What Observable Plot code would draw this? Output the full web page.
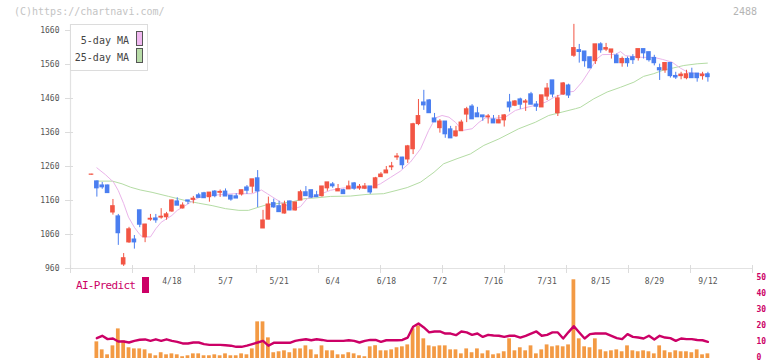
<!DOCTYPE html>
<html><head><meta charset="utf-8">
<script src="https://cdn.jsdelivr.net/npm/d3@7"></script>
<script src="https://cdn.jsdelivr.net/npm/@observablehq/plot@0.6"></script>
<style>
body{margin:0;background:#fff;}
#wrap{position:relative;width:772px;height:361px;overflow:hidden;font-family:"DejaVu Sans Mono",monospace;}
#wrap svg{position:absolute;left:0;top:0;}
.t{position:absolute;white-space:nowrap;}
</style></head><body><div id="wrap"></div>
<script>
// ---- data ----
const dateLabels = ["4/18","5/7","5/21","6/4","6/18","7/2","7/16","7/31","8/15","8/29","9/12"];
const labelIdx   = [15,25,35,45,55,65,75,85,95,105,115];
const priceTicks = [960,1060,1160,1260,1360,1460,1560,1660];
const volTicks   = [0,10,20,30,40,50];

const open  = [1236,1216,1204,1204,1125,1113,972,1037,1045,1131,1052,1104,1107,1110,1111,1128,1157,1137,1160,1162,1175,1181,1170,1186,1183,1186,1174,1172,1178,1198,1201,1225,1078,1104,1152,1143,1122,1157,1131,1160,1184,1190,1175,1173,1196,1207,1187,1190,1193,1210,1196,1195,1201,1196,1229,1240,1258,1287,1286,1281,1311,1385,1448,1454,1401,1373,1392,1369,1349,1364,1413,1436,1416,1410,1405,1398,1387,1396,1448,1439,1457,1448,1472,1442,1434,1466,1513,1417,1472,1498,1586,1602,1598,1581,1570,1619,1604,1595,1586,1564,1576,1581,1579,1605,1596,1579,1549,1543,1564,1526,1526,1520,1533,1533,1526,1531];
const high  = [1237,1217,1213,1205,1163,1119,1004,1081,1057,1131,1090,1119,1119,1136,1125,1161,1168,1153,1160,1172,1181,1184,1183,1189,1191,1194,1174,1180,1190,1204,1222,1248,1131,1170,1164,1158,1158,1158,1154,1190,1201,1190,1187,1201,1213,1213,1207,1193,1217,1213,1207,1210,1201,1228,1242,1260,1272,1298,1287,1322,1387,1457,1484,1457,1416,1398,1392,1378,1378,1396,1434,1442,1434,1410,1413,1410,1410,1413,1472,1454,1461,1457,1478,1451,1469,1504,1513,1469,1507,1502,1678,1619,1598,1581,1619,1624,1622,1604,1591,1582,1582,1589,1605,1605,1596,1587,1561,1564,1564,1537,1537,1543,1549,1533,1537,1537];
const low   = [1235,1170,1193,1181,1117,1028,966,1034,1017,1080,1036,1099,1093,1105,1102,1125,1145,1135,1148,1150,1168,1167,1155,1168,1169,1172,1158,1166,1173,1178,1181,1139,1078,1103,1137,1126,1120,1130,1129,1160,1173,1166,1170,1170,1187,1196,1187,1179,1193,1190,1190,1192,1178,1196,1229,1240,1248,1278,1252,1269,1295,1380,1425,1417,1390,1358,1343,1343,1346,1364,1389,1399,1405,1393,1385,1387,1386,1376,1420,1436,1428,1422,1442,1422,1434,1454,1462,1407,1469,1460,1581,1564,1552,1549,1560,1593,1598,1576,1564,1552,1552,1560,1570,1576,1567,1556,1513,1534,1520,1516,1515,1515,1520,1508,1514,1508];
const close = [1236,1196,1199,1182,1143,1064,990,1075,1037,1089,1089,1106,1102,1112,1119,1160,1145,1145,1157,1165,1168,1167,1183,1173,1185,1172,1163,1166,1190,1189,1222,1187,1101,1148,1140,1126,1148,1131,1154,1184,1173,1169,1170,1201,1213,1202,1193,1179,1201,1195,1200,1201,1184,1225,1236,1248,1260,1289,1264,1319,1384,1408,1440,1417,1390,1392,1355,1343,1363,1389,1428,1399,1405,1405,1407,1387,1396,1410,1434,1451,1442,1451,1442,1436,1469,1489,1472,1460,1504,1469,1608,1597,1570,1549,1619,1602,1608,1604,1564,1576,1564,1573,1605,1593,1573,1564,1543,1564,1526,1522,1530,1531,1520,1520,1530,1523];

const volume = [0,10.4,5.4,2.3,7.9,18.5,11,6.7,6,6,5.4,2.9,1.7,3.6,2.3,2.9,2.3,1.1,1.7,2.9,2.9,1.7,1.7,2.3,1.7,2.9,1.7,1.7,2.9,2.3,6,22.9,22.9,12.9,3.6,4.2,4.8,3.6,6,6,7.9,5.4,2.3,7.9,4.8,4.8,2.3,2.3,3.6,2.9,1.7,1.1,7.3,8,4.8,4.8,5.4,6.7,7.3,8.5,18.5,20.4,12.3,7.9,7.3,7.9,7.9,5.4,5.4,2.9,6,3.6,6,2.9,4.8,2.3,2.9,4.2,12.3,4.8,6.7,4.8,7.9,2.9,5.4,8.5,7.3,7.9,7.3,8.5,49.2,12.3,7.3,6.7,12.3,5.4,4.2,4.8,5.4,4.2,7.9,4.8,4.2,4.8,4.2,2.9,7.9,4.8,3.6,4.8,4.2,4.2,3.6,5.4,2.3,2.9];
const aiPredict = [NaN,12.7,14.2,12.1,12.5,10.6,10.6,10,11,11.7,11.9,11,12,11,12,11,10.4,9.4,9.4,10,10,9,8.5,8.5,8.5,8.3,8,7.3,7.3,8,9,10,11,8,9.8,9.8,9.8,9.8,11,11.6,12,11.4,12,11.6,11,11,11,11,11.4,11,10,11,11.6,11.6,10.4,11.4,11.4,11.4,11.6,13.1,19.9,21.9,19.4,16.3,16.9,16.9,15.6,15.6,14.6,16.9,16.3,14.8,15.6,13.5,14.8,14.4,14.2,13.5,14.2,14.2,13.1,14.2,15.6,16.9,14.2,14.8,16.3,16.3,12.5,16.5,20.2,16.3,12.5,15.2,15.6,15.6,15.6,14.2,12.7,12.1,15.2,13.5,13.1,12.5,14.2,11.9,14.2,13.1,12.7,11,12.5,12.1,12.1,11.6,11.4,10.4];

const ma5Idx = [1,2.6,4.1,5,6,6.9,8,9,9.5,11,12,13,14,15,16,17,18,19,20,21,22,24,26.5,30,31.7,32.8,35.3,37.7,39,40.2,42.1,44.6,47,50.2,52,53.9,55.8,57.6,59.5,61.4,62.9,63.6,64.2,65.4,66.7,67.9,69.2,71,72.3,73.5,75.4,77.2,79.1,81,82.8,84.7,86.6,89,90,91.5,93.1,94.3,95.3,97.8,98.7,99.6,102.7,104.9,106.5,108.3,109.9,111.4,113.3,115];
const ma5    = [1256,1236,1214,1189,1151,1111,1081,1060,1053,1053,1077,1096,1106,1116,1131,1140,1150,1160,1168,1173,1175,1177,1180,1180,1191,1180,1155,1135,1142,1165,1175,1190,1197,1197,1197,1209,1228,1246,1273,1312,1366,1386,1403,1410,1405,1390,1366,1371,1390,1403,1402,1405,1425,1433,1440,1449,1466,1479,1481,1508,1547,1577,1589,1590,1598,1586,1581,1581,1575,1567,1549,1536,1533,1530];
const ma25Idx = [1,3.9,5.7,7.3,9.1,11.3,14.4,17.5,20,22.5,25,27.5,29.3,30.9,32.8,35.3,37.7,39.6,42.1,44.6,48.3,51.4,54.5,57,58.9,61.4,63.9,65.7,68.2,70.7,73.2,76,79.7,82.8,85.3,87.8,90.3,91.2,93.7,96.2,98.7,101.2,103,104.9,106.8,108.6,110.5,113,114.9];
const ma25    = [1217,1217,1209,1199,1191,1184,1172,1160,1152,1145,1136,1131,1131,1139,1148,1152,1157,1165,1168,1172,1173,1178,1180,1190,1198,1214,1243,1268,1283,1297,1322,1341,1371,1390,1410,1420,1430,1434,1459,1479,1493,1508,1525,1533,1544,1550,1557,1562,1564];

// ---- build ----
const RED = "#f25544", BLUE = "#4a7ef0";
const candles = open.map((o, i) => ({i, o, h: high[i], l: low[i], c: close[i]}));
const ups = candles.filter(d => d.c >= d.o);
const downs = candles.filter(d => d.c < d.o);
const ma5Data = ma5Idx.map((x, k) => ({x, y: ma5[k]}));
const ma25Data = ma25Idx.map((x, k) => ({x, y: ma25[k]}));
const volData = volume.map((v, i) => ({i, v})).filter(d => d.v > 0);
const aiData = aiPredict.map((a, i) => ({i, a})).filter(d => !isNaN(d.a));

const xDomain = [-3.918, 123.32];
const gridTicks = d3.range(12).map(k => xDomain[0] + k * (xDomain[1] - xDomain[0]) / 11);
const HW = 0.43;

const topPlot = Plot.plot({
  width: 772, height: 361,
  marginLeft: 70, marginRight: 20, marginTop: 24, marginBottom: 93,
  x: {domain: xDomain, axis: null},
  y: {domain: [960, 1677.6], axis: null},
  style: {background: "transparent", fontFamily: "DejaVu Sans Mono, monospace"},
  marks: [
    Plot.ruleX([xDomain[0]], {stroke: "#e2e2e2", strokeWidth: 1.2}),
    Plot.ruleY([960], {stroke: "#e2e2e2", strokeWidth: 1.2}),
    Plot.axisY(priceTicks, {anchor: "left", tickSize: 8, dx: 3, stroke: "#dcdcdc", fill: "none", label: null}),
    Plot.axisY(priceTicks, {anchor: "left", tickSize: 0, tickPadding: 11, fill: "#555", fontSize: 8, label: null,
      tickFormat: d => String(d)}),
    Plot.axisX(gridTicks, {anchor: "bottom", tickSize: 8, dy: -3, stroke: "#dcdcdc", fill: "none", label: null}),
    Plot.axisX(labelIdx, {anchor: "bottom", tickSize: 0, tickPadding: 10, fill: "#555", fontSize: 8, label: null,
      tickFormat: d => dateLabels[labelIdx.indexOf(d)]}),
    Plot.line(ma25Data, {x: "x", y: "y", stroke: "#b4dca4", strokeWidth: 1}),
    Plot.line(ma5Data, {x: "x", y: "y", stroke: "#eab4ea", strokeWidth: 1}),
    Plot.ruleX(ups, {x: "i", y1: "l", y2: "h", stroke: RED, strokeWidth: 1}),
    Plot.ruleX(downs, {x: "i", y1: "l", y2: "h", stroke: BLUE, strokeWidth: 1}),
    Plot.rect(ups, {x1: d => d.i - HW, x2: d => d.i + HW, y1: "o", y2: "c", fill: RED, insetTop: -0.6, insetBottom: -0.6}),
    Plot.rect(downs, {x1: d => d.i - HW, x2: d => d.i + HW, y1: "o", y2: "c", fill: BLUE, insetTop: -0.6, insetBottom: -0.6})
  ]
});

const lowPlot = Plot.plot({
  width: 772, height: 361,
  marginLeft: 70, marginRight: 20, marginTop: 278, marginBottom: 3,
  x: {domain: xDomain, axis: null},
  y: {domain: [0, 50], axis: null},
  style: {background: "transparent", fontFamily: "DejaVu Sans Mono, monospace"},
  marks: [
    Plot.rectY(volData, {x1: d => d.i - 0.35, x2: d => d.i + 0.35, y: "v", fill: "#f39a44"}),
    Plot.line(aiData, {x: "i", y: "a", stroke: "#cc0066", strokeWidth: 2.4}),
    Plot.axisY(volTicks, {anchor: "right", tickSize: 0, tickPadding: 4, dy: -1.5, fill: "#cc0066", fontSize: 8, fontWeight: "bold", label: null})
  ]
});

const wrap = document.getElementById("wrap");
wrap.appendChild(lowPlot);
wrap.appendChild(topPlot);

function addText(txt, css) {
  const d = document.createElement("div");
  d.className = "t";
  d.textContent = txt;
  Object.assign(d.style, css);
  wrap.appendChild(d);
  return d;
}
function addBox(css) {
  const d = document.createElement("div");
  d.style.position = "absolute";
  Object.assign(d.style, css);
  wrap.appendChild(d);
}
addText("(C)https://chartnavi.com/", {left: "14px", top: "5px", fontSize: "10px", color: "#c4c4c4", lineHeight: "14px"});
addText("2488", {right: "15px", top: "5px", fontSize: "10px", color: "#b4b4b4", lineHeight: "14px"});
// legend
addBox({left: "70px", top: "24px", width: "76px", height: "45px", border: "1px solid #dcdcdc", background: "#fff"});
addText("5-day MA", {right: (772 - 129) + "px", top: "34px", fontSize: "10px", color: "#444", lineHeight: "14px"});
addText("25-day MA", {right: (772 - 129) + "px", top: "51px", fontSize: "10px", color: "#444", lineHeight: "14px"});
addBox({left: "136px", top: "31px", width: "5px", height: "13px", border: "1px solid #555", background: "#f0b8f0"});
addBox({left: "136px", top: "48px", width: "5px", height: "13px", border: "1px solid #555", background: "#b8dca8"});
// AI-Predict label
addText("AI-Predict", {left: "76px", top: "279px", fontSize: "11px", letterSpacing: "-0.7px", color: "#cc0066", lineHeight: "14px"});
addBox({left: "142px", top: "277px", width: "7px", height: "16px", background: "#cc0066"});
</script>
</body></html>
